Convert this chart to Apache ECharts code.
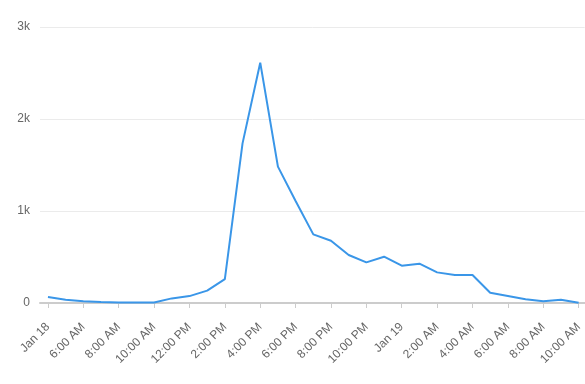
<!DOCTYPE html>
<html>
<head>
<meta charset="utf-8">
<script src="https://cdn.jsdelivr.net/npm/echarts@6/dist/echarts.min.js"></script>
<style>html,body{margin:0;padding:0;background:#fff;}#c{width:585px;height:384px;}</style>
</head>
<body>
<div id="c"></div>
<script>
// Hourly points, one label every two hours
const tickLabels = ['Jan 18','6:00 AM','8:00 AM','10:00 AM','12:00 PM','2:00 PM','4:00 PM','6:00 PM','8:00 PM','10:00 PM','Jan 19','2:00 AM','4:00 AM','6:00 AM','8:00 AM','10:00 AM'];
const tickIndexes = [0,2,4,6,8,10,12,14,16,18,20,22,24,26,28,30];
const pointIndexes = [0,1,2,3,4,5,6,7,8,9,10,11,12,13,14,15,16,17,18,19,20,21,22,23,24,25,26,27,28,29,30];
const values = [65,35,18,10,5,5,5,50,75,135,260,1735,2612,1482,1109,746,677,522,442,503,406,427,333,304,304,112,76,40,18,36,3];
const yTicks = [0,1000,2000,3000];

const chart = echarts.init(document.getElementById('c'), null, {renderer:'canvas'});
const font = "'Liberation Sans', Arial, sans-serif";
chart.setOption({
  animation:false,
  grid:{left:40,right:0,top:27,bottom:81},
  xAxis:{
    type:'value', min:-0.45, max:30.34,
    splitLine:{show:false},
    axisLine:{show:true,lineStyle:{color:'#cccccc',width:2}},
    axisTick:{show:true,length:5,lineStyle:{color:'#cccccc'},customValues:tickIndexes},
    axisLabel:{show:true,rotate:45,color:'#666666',fontSize:12,fontFamily:font,margin:22,
      customValues:tickIndexes,
      formatter:function(v){const k=tickIndexes.indexOf(Math.round(v));return k>=0?tickLabels[k]:'';}}
  },
  yAxis:{
    type:'value', min:0, max:3000, interval:1000,
    axisLine:{show:false}, axisTick:{show:false},
    splitLine:{lineStyle:{color:'#ebebeb',width:1}},
    axisLabel:{color:'#666666',fontSize:12,fontFamily:font,margin:10,
      formatter:function(v){return v===0?'0':(v/1000)+'k';}}
  },
  series:[{
    type:'line',
    data:pointIndexes.map((x,i)=>[x,values[i]]),
    showSymbol:false,
    lineStyle:{color:'#3a96e8',width:2},
    itemStyle:{color:'#3a96e8'}
  }]
});
</script>
</body>
</html>
